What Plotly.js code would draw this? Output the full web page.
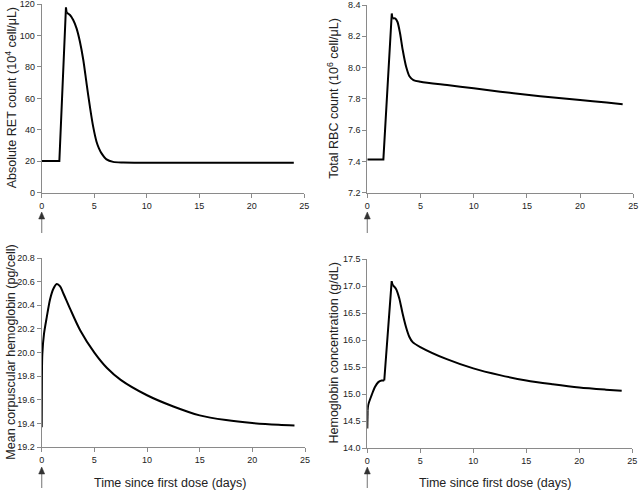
<!DOCTYPE html>
<html>
<head>
<meta charset="utf-8">
<script src="https://cdn.plot.ly/plotly-3.0.1.min.js"></script>
<style>html,body{margin:0;padding:0;background:#fff;}#chart{width:640px;height:499px;}</style>
</head>
<body>
<div id="chart"></div>
<script>
// Absolute reticulocyte count (10^4 cell/uL)
const retTime = [0, 1.68, 2.31, 2.37, 2.69, 3.0, 3.32, 3.64, 3.96, 4.27, 4.59, 4.9, 5.22, 5.45, 5.7, 6.17, 6.8, 7.75, 10, 15, 20, 24];
const retValue = [20.1, 20.1, 117.9, 114.5, 113, 109.8, 104.5, 96, 84.4, 69.5, 54.7, 42, 32.4, 28.2, 25, 21.2, 19.6, 19.2, 19.1, 19.1, 19.1, 19.1];

// Total red blood cell count (10^6 cell/uL)
const rbcTime = [0, 1.51, 2.3, 2.36, 2.61, 2.83, 3.08, 3.33, 3.65, 3.96, 4.34, 5, 7.5, 10, 12.5, 15, 17.5, 20, 22.5, 24];
const rbcValue = [7.413, 7.413, 8.346, 8.314, 8.314, 8.293, 8.218, 8.112, 8.005, 7.945, 7.92, 7.909, 7.888, 7.868, 7.846, 7.826, 7.808, 7.792, 7.776, 7.766];

// Mean corpuscular hemoglobin (pg/cell)
const mchTime = [0, 0.02, 0.06, 0.22, 0.48, 0.79, 1.11, 1.43, 1.75, 2.06, 2.7, 3.65, 5, 6.2, 7.5, 10, 12.5, 15, 17.5, 20, 22.5, 24];
const mchValue = [19.37, 19.8, 19.99, 20.16, 20.30, 20.45, 20.54, 20.58, 20.56, 20.50, 20.37, 20.19, 20.0, 19.87, 19.77, 19.64, 19.545, 19.47, 19.43, 19.405, 19.39, 19.385];

// Hemoglobin concentration (g/dL)
const hbTime = [0, 0.03, 0.09, 0.41, 0.72, 1.04, 1.35, 1.6, 2.3, 2.39, 2.7, 3.02, 3.33, 3.65, 3.96, 4.28, 5, 7.5, 10, 12.5, 15, 17.5, 20, 22.5, 24];
const hbValue = [14.36, 14.7, 14.80, 14.98, 15.13, 15.22, 15.25, 15.25, 17.09, 17.02, 16.95, 16.77, 16.49, 16.24, 16.06, 15.96, 15.87, 15.645, 15.475, 15.35, 15.25, 15.18, 15.12, 15.08, 15.06];

const xTicks = [0, 5, 10, 15, 20, 25];
const retTicks = [0, 20, 40, 60, 80, 100, 120];
const rbcTicks = [7.2, 7.4, 7.6, 7.8, 8.0, 8.2, 8.4];
const mchTicks = [19.2, 19.4, 19.6, 19.8, 20.0, 20.2, 20.4, 20.6, 20.8];
const hbTicks = [14.0, 14.5, 15.0, 15.5, 16.0, 16.5, 17.0, 17.5];
const yTitles = [
  "Absolute RET count (10<sup>4</sup> cell/\u03bcL)",
  "Total RBC count (10<sup>6</sup> cell/\u03bcL)",
  "Mean corpuscular hemoglobin (pg/cell)",
  "Hemoglobin concentration (g/dL)"
];
const xTitle = "Time since first dose (days)";

const W = 640, H = 499;
const FONT = "Liberation Sans, Arial, sans-serif";

// Each series is split into straight pieces (sharp corners) and smooth pieces.
const series = [
  {t: retTime, v: retValue, ax: ["x", "y"], pieces: [[0, 3, "linear"], [3, retTime.length - 1, "spline"]]},
  {t: rbcTime, v: rbcValue, ax: ["x2", "y2"], pieces: [[0, 3, "linear"], [3, rbcTime.length - 1, "spline"]]},
  {t: mchTime, v: mchValue, ax: ["x3", "y3"], pieces: [[0, mchTime.length - 1, "spline"]]},
  {t: hbTime, v: hbValue, ax: ["x4", "y4"], pieces: [[0, 1, "linear"], [1, 7, "spline"], [7, 9, "linear"], [9, hbTime.length - 1, "spline"]]}
];

const traces = [];
series.forEach(s => {
  s.pieces.forEach(([a, b, shape]) => {
    traces.push({
      type: "scatter", mode: "lines",
      x: s.t.slice(a, b + 1), y: s.v.slice(a, b + 1),
      xaxis: s.ax[0], yaxis: s.ax[1],
      line: {color: "#000", width: 2, shape: shape, smoothing: 0.8},
      hoverinfo: "skip", showlegend: false
    });
  });
});

function px(x) { return x / W; }
function py(y) { return 1 - y / H; }

const titleFont = {family: FONT, size: 12.5, color: "#222"};
const axisBase = {
  showline: true, linecolor: "#8a8a8a", linewidth: 1,
  ticks: "outside", ticklen: 4, tickcolor: "#8a8a8a", tickwidth: 1,
  showgrid: false, zeroline: false, fixedrange: true,
  ticklabeloverflow: "allow",
  tickfont: {family: FONT, size: 9, color: "#222"}
};
function xa(d0, d1, anchor) {
  return Object.assign({}, axisBase, {domain: [px(d0), px(d1)], range: [0, 25], tickvals: xTicks, ticktext: xTicks.map(String), anchor: anchor});
}
function ya(d0, d1, range, ticks, fmt, anchor) {
  return Object.assign({}, axisBase, {
    domain: [py(d1), py(d0)], range: range, tickvals: ticks,
    ticktext: ticks.map(v => fmt ? v.toFixed(1) : String(v)), anchor: anchor
  });
}

const panels = [
  {x0: 41.7, y0: 4, y1: 192.7, titleX: 11, arrowY: 212},
  {x0: 367.3, y0: 5, y1: 192.7, titleX: 333, arrowY: 212},
  {x0: 41.7, y0: 258, y1: 447.3, titleX: 11, arrowY: 467},
  {x0: 367.3, y0: 259, y1: 448, titleX: 333, arrowY: 467}
];

const layout = {
  width: W, height: H,
  margin: {l: 0, r: 0, t: 0, b: 0},
  paper_bgcolor: "#fff", plot_bgcolor: "rgba(0,0,0,0)",
  font: {family: FONT, color: "#222"},
  showlegend: false,
  xaxis: xa(41.7, 304.3, "y"),
  yaxis: ya(4, 192.7, [0, 120], retTicks, false, "x"),
  xaxis2: xa(367.3, 633.3, "y2"),
  yaxis2: ya(5, 192.7, [7.2, 8.4], rbcTicks, true, "x2"),
  xaxis3: xa(41.7, 305, "y3"),
  yaxis3: ya(258, 447.3, [19.2, 20.8], mchTicks, true, "x3"),
  xaxis4: xa(367.3, 632.3, "y4"),
  yaxis4: ya(259, 448, [14.0, 17.5], hbTicks, true, "x4"),
  annotations: [],
  shapes: []
};

panels.forEach((p, i) => {
  layout.annotations.push({
    text: yTitles[i], xref: "paper", yref: "paper",
    x: px(p.titleX), y: py((p.y0 + p.y1) / 2),
    xanchor: "center", yanchor: "middle", textangle: -90, showarrow: false,
    font: titleFont
  });
  const ax = p.x0, hy = p.arrowY;
  layout.shapes.push({
    type: "line", xref: "paper", yref: "paper", x0: px(ax), x1: px(ax),
    y0: py(hy + 21), y1: py(hy + 5),
    line: {color: "#8a8a8a", width: 1.2}
  });
  layout.shapes.push({
    type: "path", xref: "paper", yref: "paper",
    path: "M " + px(ax - 3) + "," + py(hy + 7) + " L " + px(ax + 3) + "," + py(hy + 7) + " L " + px(ax) + "," + py(hy) + " Z",
    fillcolor: "#333", line: {color: "#333", width: 0.5}
  });
  if (i >= 2) {
    layout.annotations.push({
      text: xTitle, xref: "paper", yref: "paper",
      x: px(i === 2 ? 170 : 495), y: py(483),
      xanchor: "center", yanchor: "middle", showarrow: false,
      font: titleFont
    });
  }
});

Plotly.newPlot("chart", traces, layout, {displayModeBar: false, staticPlot: true});
</script>
</body>
</html>
